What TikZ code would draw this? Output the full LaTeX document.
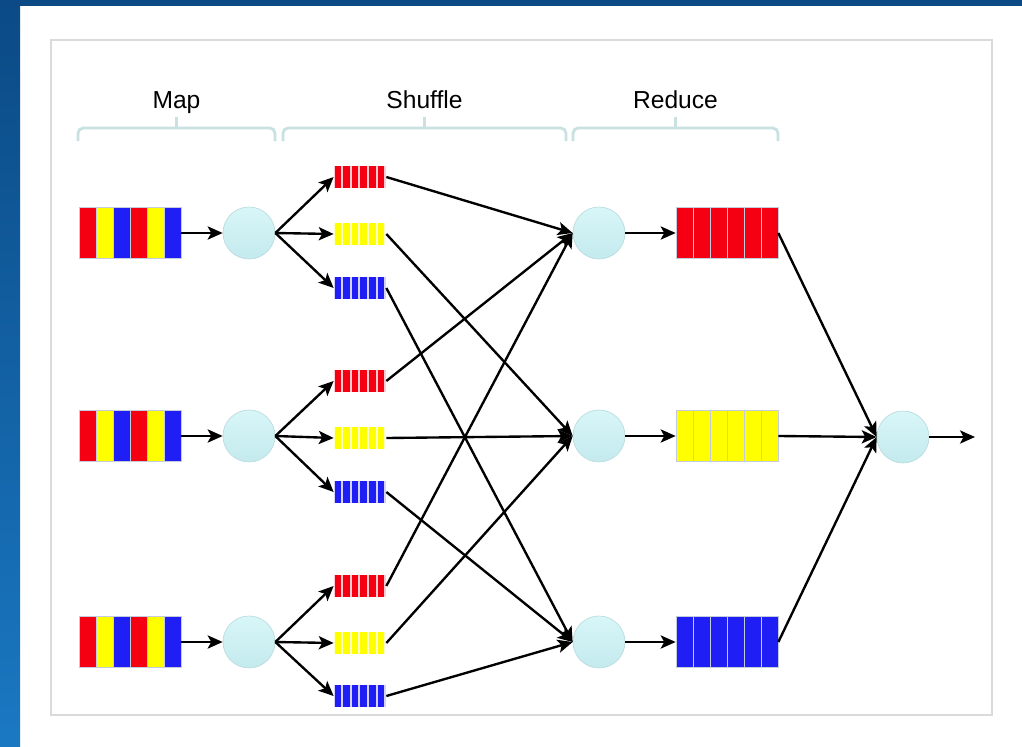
\documentclass[tikz,border=0pt]{standalone}
\usepackage{fontspec}
\setmainfont{Liberation Sans}
\usetikzlibrary{arrows.meta}

\definecolor{frameblue}{HTML}{0B4A85}
\definecolor{framelight}{HTML}{1A78C2}
\definecolor{panelgray}{HTML}{DADADA}
\definecolor{bracketcol}{HTML}{C9E1E1}
\definecolor{circletop}{HTML}{D8F6F8}
\definecolor{circlebot}{HTML}{C4EAEE}
\definecolor{circleedge}{HTML}{BCDDE0}
\definecolor{qred}{HTML}{F50012}
\definecolor{qyel}{HTML}{FFFF00}
\definecolor{qblu}{HTML}{1E1EF5}
\definecolor{sepcol}{HTML}{C3CCDD}

\tikzset{
  worker/.style={circle, draw=circleedge, top color=circletop, bottom color=circlebot,
    minimum size=1.04cm, inner sep=0pt},
  flow/.style={draw=black, line width=1.35pt, ->},
  bracket/.style={draw=bracketcol, line width=1.6pt, rounded corners=3pt},
  qframe/.style={inner sep=0pt, draw=none},
  phase/.style={font=\fontsize{14}{16}\selectfont, anchor=base},
}

% big queue: name, left x, centre y, colours
\newcommand{\bigq}[4]{%
  \foreach \c [count=\i from 0] in {#4}
    \filldraw[fill=\c, draw=sepcol, line width=0.4pt] ({#2+\i*17},{#3-25.5}) rectangle ++(17,51);
  \node[qframe, minimum width=2.04cm, minimum height=1.02cm] (#1) at ({#2+51},#3) {};
}
% small queue: name, centre y, colour
\newcommand{\smallq}[3]{%
  \fill[#3!20] (334,{#2-11}) rectangle ++(52,22);
  \foreach \i in {0,...,5}
    \fill[#3] ({334.5+\i*8.6},{#2-11}) rectangle ++(6.6,22);
  \node[qframe, minimum width=1.04cm, minimum height=0.44cm] (#1) at (360,#2) {};
}

\begin{document}
\begin{tikzpicture}[x=0.02cm, y=-0.02cm, >={Stealth[length=8.5pt, width=7.5pt, inset=2pt]}]

  \useasboundingbox (0,0) rectangle (1022,747);
  \fill[white] (0,0) rectangle (1022,747);
  \shade[top color=frameblue, bottom color=framelight] (0,0) rectangle (20,747);
  \fill[frameblue] (0,0) rectangle (1022,6);
  \draw[panelgray, line width=0.6pt] (51,40) rectangle (992,715);

  % phases
  \foreach \a/\b/\m/\t in {78/275/176.5/Map, 283/566/424.5/Shuffle, 573/778/675.5/Reduce} {
    \draw[bracket] (\a,141) -- (\a,128) -- (\b,128) -- (\b,141);
    \draw[bracket] (\m,128) -- (\m,117);
    \node[phase] (l\t) at (\m,108) {\t};
  }

  % map side
  \bigq{in1}{79}{233}{qred,qyel,qblu,qred,qyel,qblu}
  \bigq{in2}{79}{436}{qred,qyel,qblu,qred,qyel,qblu}
  \bigq{in3}{79}{642}{qred,qyel,qblu,qred,qyel,qblu}

  \node[worker] (m1) at (249,233) {};
  \node[worker] (m2) at (249,436) {};
  \node[worker] (m3) at (249,642) {};

  \smallq{sr1}{177}{qred}
  \smallq{sy1}{234}{qyel}
  \smallq{sb1}{288}{qblu}
  \smallq{sr2}{381}{qred}
  \smallq{sy2}{438}{qyel}
  \smallq{sb2}{492}{qblu}
  \smallq{sr3}{586}{qred}
  \smallq{sy3}{643}{qyel}
  \smallq{sb3}{696}{qblu}

  % reduce side
  \node[worker] (r1) at (599,233) {};
  \node[worker] (r2) at (599,436) {};
  \node[worker] (r3) at (599,642) {};

  \bigq{out1}{676}{233}{qred,qred,qred,qred,qred,qred}
  \bigq{out2}{676}{436}{qyel,qyel,qyel,qyel,qyel,qyel}
  \bigq{out3}{676}{642}{qblu,qblu,qblu,qblu,qblu,qblu}

  \node[worker] (fin) at (903,437) {};
  \coordinate (end) at (975,437);

  \foreach \k in {1,2,3} {
    \draw[flow] (in\k.east) -- (m\k.west);
    \draw[flow] (m\k.east) -- (sr\k.west);
    \draw[flow] (m\k.east) -- (sy\k.west);
    \draw[flow] (m\k.east) -- (sb\k.west);
    \draw[flow] (sr\k.east) -- (r1.west);
    \draw[flow] (sy\k.east) -- (r2.west);
    \draw[flow] (sb\k.east) -- (r3.west);
    \draw[flow] (r\k.east) -- (out\k.west);
    \draw[flow] (out\k.east) -- (fin.west);
  }
  \draw[flow] (fin.east) -- (end);

\end{tikzpicture}
\end{document}
